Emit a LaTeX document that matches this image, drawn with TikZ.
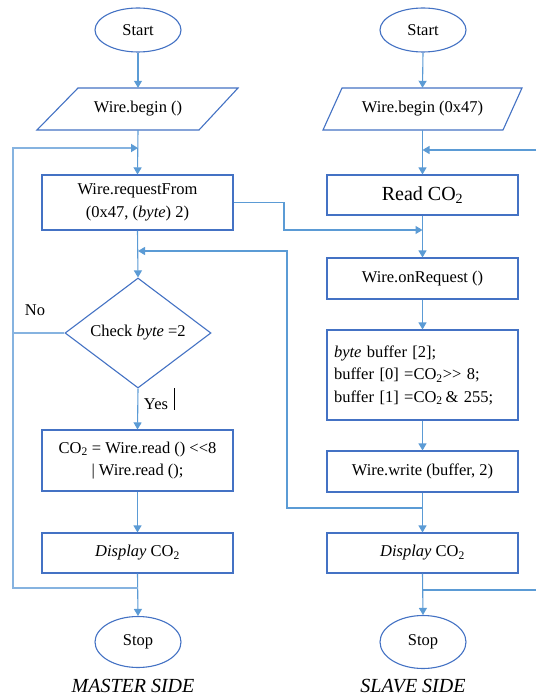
\documentclass[tikz,border=0pt]{standalone}
\usepackage{fontspec}
\setmainfont{Liberation Serif}
\usetikzlibrary{arrows.meta,shapes.geometric}
\definecolor{bordercol}{HTML}{4472C4}
\definecolor{linecol}{HTML}{5B9BD5}
\definecolor{loopcol}{HTML}{86B3E0}
\tikzset{
  txt/.style={font=\fontsize{16.5}{22.5}\selectfont, text=black},
  procbox/.style={txt, draw=bordercol, line width=1.1pt, rectangle, minimum width=191pt, inner sep=0pt, align=center},
  termnode/.style={txt, draw=bordercol, line width=1.1pt, ellipse, minimum width=86pt, inner sep=0pt},
  ionode/.style={txt, rectangle, minimum width=120pt, minimum height=42pt, inner sep=0pt},
  ioshape/.style={draw=bordercol, line width=1.1pt},
  decnode/.style={txt, draw=bordercol, line width=1.1pt, diamond, aspect=1.33, minimum width=146pt, minimum height=110pt, inner sep=0pt},
  conn/.style={draw=linecol, line width=1.1pt},
  arr/.style={conn, -{Triangle[width=8pt,length=7pt]}},
  loopline/.style={draw=loopcol, line width=1.8pt},
  looparr/.style={loopline, -{Triangle[width=8pt,length=7pt,color=linecol]}},
  sidelabel/.style={font=\fontsize{20}{24}\selectfont\itshape, text=black}
}
\begin{document}
\begin{tikzpicture}[x=1pt,y=-1pt]
\useasboundingbox[fill=white] (0,0) rectangle (536,698);

% ---------------- MASTER ----------------
\node[termnode, minimum height=44pt] (mstart) at (138,30) {Start};
\draw[ioshape] (78,88) -- (238,88) -- (199,130) -- (37,130) -- cycle;
\node[ionode] (mbegin) at (138,109) {Wire.begin ()};
\node[procbox, minimum height=55pt] (mreq) at (137.5,202.5) {Wire.requestFrom\\(0x47, (\textit{byte}) 2)};
\node[decnode] (mdia) at (138,333) {Check \textit{byte} =2};
\node[procbox, minimum height=61pt] (mread) at (137.5,460.5) {CO\textsubscript{2} = Wire.read () <{}<8\\| Wire.read ();};
\node[procbox, minimum height=40pt] (mdisp) at (137.5,553) {\textit{Display} CO\textsubscript{2}};
\node[termnode, minimum height=51pt] (mstop) at (138,642) {Stop};
\node[sidelabel] (mside) at (133,686) {MASTER SIDE};

\node[txt] (nolab) at (35,310) {No};
\node[txt] (yeslab) at (156,404) {Yes};
\draw[black, line width=0.6pt] (174,388) -- (174,410);

\coordinate (mj1) at (138,148);
\coordinate (mj2) at (138,251);
\coordinate (mj3) at (138,588);
\coordinate (ml1) at (13,588);
\coordinate (ml2) at (13,148);
\coordinate (mno) at (13,333);

\draw[arr] (mstart.south) -- (mbegin.north);
\draw[arr] (mbegin.south) -- (mreq.north);
\draw[arr] (mreq.south) -- (mdia.north);
\draw[arr] (mdia.south) -- (mread.north);
\draw[arr] (mread.south) -- (mdisp.north);
\draw[arr] (mdisp.south) -- (mstop.north);
\draw[looparr] (mj3) -- (ml1) -- (ml2) -- (mj1);
\draw[loopline] (mdia.west) -- (mno);

% ---------------- SLAVE ----------------
\node[termnode, minimum height=44pt] (sstart) at (423,30) {Start};
\draw[ioshape] (342,88) -- (522,88) -- (503,130) -- (323,130) -- cycle;
\node[ionode] (sbegin) at (422.5,109) {Wire.begin (0x47)};
\node[procbox, minimum height=40pt, font=\fontsize{20}{24}\selectfont] (sread) at (422.5,195) {Read CO\textsubscript{2}};
\node[procbox, minimum height=41pt] (sonreq) at (422.5,278.5) {Wire.onRequest ()};
\node[procbox, minimum height=90pt, text width=177pt, inner xsep=7pt, align=left] (sbuf) at (422.5,375)
  {\textit{byte} buffer [2];\\buffer [0] =CO\textsubscript{2}>{}> 8;\\buffer [1] =CO\textsubscript{2}\,\& 255;};
\node[procbox, minimum height=41pt] (swrite) at (422.5,471.5) {Wire.write (buffer, 2)};
\node[procbox, minimum height=40pt] (sdisp) at (422.5,553) {\textit{Display} CO\textsubscript{2}};
\node[termnode, minimum height=53pt] (sstop) at (423,642) {Stop};
\node[sidelabel] (sside) at (413,686) {SLAVE SIDE};

\coordinate (sj0) at (422.5,150);
\coordinate (se0) at (536,150);
\coordinate (sj1) at (422.5,230);
\coordinate (sj2) at (422.5,508);
\coordinate (sj3) at (422.5,590);
\coordinate (se3) at (536,590);

\draw[arr] (sstart.south) -- (sbegin.north);
\draw[arr] (sbegin.south) -- (sread.north);
\draw[arr] (sread.south) -- (sonreq.north);
\draw[arr] (sonreq.south) -- (sbuf.north);
\draw[arr] (sbuf.south) -- (swrite.north);
\draw[arr] (swrite.south) -- (sdisp.north);
\draw[arr] (sdisp.south) -- (sstop.north);
\draw[arr] (se0) -- (sj0);
\draw[conn] (sj3) -- (se3);

% ---------------- cross links ----------------
\draw[arr] (mreq.east) -- (284,202.5) -- (284,230) -- (sj1);
\draw[arr] (sj2) -| (287,251) -- (mj2);
\end{tikzpicture}
\end{document}
